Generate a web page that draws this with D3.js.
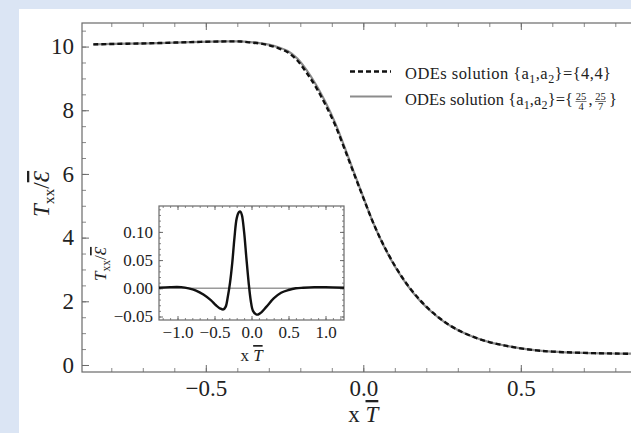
<!DOCTYPE html>
<html>
<head>
<meta charset="utf-8">
<script src="https://cdn.jsdelivr.net/npm/d3@7"></script>
<style>
  html, body { margin: 0; padding: 0; background: #dbe5f4; }
  svg { display: block; }
  text { font-family: "Liberation Serif", "Times New Roman", serif; fill: #222; }
</style>
</head>
<body>
<svg id="chart" width="631" height="433"></svg>
<script>
// ---- data: T_xx / E-bar profiles versus x T-bar ----
const xMain = [-0.857, -0.75, -0.65, -0.55, -0.45, -0.39, -0.36, -0.33, -0.30, -0.27, -0.24, -0.21, -0.18, -0.15,
  -0.12, -0.09, -0.06, -0.03, 0.00, 0.03, 0.06, 0.10, 0.14, 0.18, 0.22, 0.26, 0.30, 0.35, 0.40, 0.45, 0.50,
  0.55, 0.60, 0.70, 0.80, 0.89];
// a1 = a2 = 4 (dashed)
const txxA = [10.07, 10.09, 10.11, 10.14, 10.16, 10.16, 10.13, 10.10, 10.04, 9.95, 9.82, 9.57, 9.18, 8.72,
  8.17, 7.55, 6.80, 6.02, 5.25, 4.50, 3.85, 3.12, 2.52, 2.04, 1.65, 1.34, 1.10, 0.88, 0.72, 0.61, 0.52,
  0.46, 0.42, 0.38, 0.36, 0.35];
// a1 = 25/4, a2 = 25/7 (solid grey)
const txxB = [10.07, 10.09, 10.11, 10.14, 10.16, 10.16, 10.14, 10.11, 10.06, 9.98, 9.86, 9.63, 9.26, 8.80,
  8.25, 7.62, 6.86, 6.06, 5.27, 4.50, 3.84, 3.10, 2.50, 2.02, 1.64, 1.33, 1.10, 0.88, 0.72, 0.61, 0.52,
  0.46, 0.42, 0.38, 0.36, 0.35];

// inset: difference profile
const xInset = [-1.25, -1.10, -0.95, -0.85, -0.75, -0.65, -0.55, -0.48, -0.42, -0.38, -0.35, -0.32, -0.29,
  -0.26, -0.23, -0.20, -0.17, -0.15, -0.13, -0.10, -0.07, -0.04, -0.01, 0.02, 0.06, 0.09, 0.13, 0.20,
  0.30, 0.40, 0.50, 0.60, 0.70, 0.85, 1.00, 1.25];
const dInset = [0.001, 0.002, 0.002, 0.000, -0.004, -0.011, -0.021, -0.030, -0.036, -0.0375, -0.033, -0.015,
  0.010, 0.045, 0.090, 0.124, 0.135, 0.136, 0.130, 0.100, 0.055, 0.012, -0.022, -0.040, -0.046, -0.0465,
  -0.043, -0.033, -0.018, -0.008, -0.003, 0.000, 0.001, 0.002, 0.002, 0.001];

// tick values
const mainXTicks = [-0.5, 0.0, 0.5];
const mainYTicks = [0, 2, 4, 6, 8, 10];
const insetXTicks = [-1.0, -0.5, 0.0, 0.5, 1.0];
const insetYTicks = [-0.05, 0.00, 0.05, 0.10];

// ---- drawing ----
const svg = d3.select("#chart");
const frameColor = "#6a6a6a";

// white panel
svg.append("rect").attr("x", 19).attr("y", 9).attr("width", 612).attr("height", 424).attr("fill", "#fff");

// main scales
const x = d3.scaleLinear().domain([-0.893, 0.893]).range([82, 644.6]);
const y = d3.scaleLinear().domain([-0.22, 10.74]).range([372, 23]);

function frameAxes(g, xs, ys, xt, yt, xMinor, yMinor, fmtX, fmtY, major, minor, pad, fontSize) {
  const [x0, x1] = xs.range();
  const [y0, y1] = ys.range();
  const sides = [
    {axis: d3.axisBottom, s: xs, t: y0, vals: xt, min: xMinor, fmt: fmtX, lbl: true, horiz: true},
    {axis: d3.axisTop, s: xs, t: y1, vals: xt, min: xMinor, fmt: fmtX, lbl: false, horiz: true},
    {axis: d3.axisLeft, s: ys, t: x0, vals: yt, min: yMinor, fmt: fmtY, lbl: true, horiz: false},
    {axis: d3.axisRight, s: ys, t: x1, vals: yt, min: yMinor, fmt: fmtY, lbl: false, horiz: false}
  ];
  sides.forEach(sd => {
    const tr = sd.horiz ? `translate(0,${sd.t})` : `translate(${sd.t},0)`;
    const gm = g.append("g").attr("transform", tr)
      .call(sd.axis(sd.s).tickValues(sd.min).tickSize(-minor).tickFormat(""));
    gm.select(".domain").remove();
    gm.selectAll("line").attr("stroke", frameColor).attr("stroke-width", 0.8);
    const ga = g.append("g").attr("transform", tr)
      .call(sd.axis(sd.s).tickValues(sd.vals).tickSize(-major).tickPadding(pad)
        .tickFormat(sd.lbl ? sd.fmt : ""));
    ga.select(".domain").remove();
    ga.selectAll("line").attr("stroke", frameColor).attr("stroke-width", 1);
    ga.selectAll("text").attr("font-family", "Liberation Serif").attr("font-size", fontSize).attr("fill", "#222");
  });
  g.append("rect").attr("x", x0).attr("y", y1).attr("width", x1 - x0).attr("height", y0 - y1)
    .attr("fill", "none").attr("stroke", frameColor).attr("stroke-width", 1.2);
}

// main frame
const gMain = svg.append("g");
frameAxes(gMain, x, y, mainXTicks, mainYTicks,
  d3.range(-0.8, 0.85, 0.1).map(v => +v.toFixed(2)),
  d3.range(0, 10.6, 0.5),
  d3.format(".1f"), d3.format("d"), 7, 4, 8, 23);

// main curves
svg.append("clipPath").attr("id", "clipMain").append("rect")
  .attr("x", 82).attr("y", 23).attr("width", 562.6).attr("height", 349);
const lineMain = d3.line().x(d => x(d[0])).y(d => y(d[1])).curve(d3.curveCatmullRom);
svg.append("path").attr("clip-path", "url(#clipMain)")
  .attr("d", lineMain(xMain.map((v, i) => [v, txxB[i]])))
  .attr("fill", "none").attr("stroke", "#8c8c8c").attr("stroke-width", 2.2);
svg.append("path").attr("clip-path", "url(#clipMain)")
  .attr("d", lineMain(xMain.map((v, i) => [v, txxA[i]])))
  .attr("fill", "none").attr("stroke", "#111").attr("stroke-width", 2.4).attr("stroke-dasharray", "5,3");

// axis labels
function xLabel(g, cx, baseline, size) {
  const t = g.append("text").attr("x", cx).attr("y", baseline).attr("text-anchor", "middle")
    .attr("font-size", size);
  t.append("tspan").text("x ");
  t.append("tspan").attr("font-style", "italic").style("text-decoration", "overline").text("T");
}
function yLabel(g, cx, cy, size) {
  const t = g.append("text").attr("transform", `translate(${cx},${cy}) rotate(-90)`)
    .attr("text-anchor", "middle").attr("font-size", size);
  t.append("tspan").attr("font-style", "italic").text("T");
  t.append("tspan").attr("font-size", size * 0.68).attr("dy", size * 0.22).text("xx");
  t.append("tspan").attr("dy", -size * 0.22).text("/");
  t.append("tspan").attr("font-style", "italic").style("text-decoration", "overline").text("\u0190");
}
xLabel(svg, x(0), 422, 23);
yLabel(svg, 49, 194, 23);

// legend
const legend = svg.append("g");
legend.append("line").attr("x1", 350).attr("x2", 391).attr("y1", 71.5).attr("y2", 71.5)
  .attr("stroke", "#111").attr("stroke-width", 2.4).attr("stroke-dasharray", "5,3");
legend.append("line").attr("x1", 350).attr("x2", 392).attr("y1", 96.5).attr("y2", 96.5)
  .attr("stroke", "#8c8c8c").attr("stroke-width", 2.2);

const legFont = 16.5;
function legendText(yb, tail, width) {
  const t = legend.append("text").attr("x", 405).attr("y", yb).attr("font-size", legFont)
    .attr("textLength", width).attr("lengthAdjust", "spacing");
  t.append("tspan").text("ODEs solution {a");
  t.append("tspan").attr("font-size", 12).attr("dy", 4).text("1");
  t.append("tspan").attr("dy", -4).text(",a");
  t.append("tspan").attr("font-size", 12).attr("dy", 4).text("2");
  t.append("tspan").attr("dy", -4).text(tail);
  return t;
}
legendText(78.5, "}={4,4}", 206);
legendText(104.5, "}={", 168);
let cx = 575;
function frac(num, den) {
  const w = 12;
  legend.append("text").attr("x", cx + w / 2).attr("y", 99.5).attr("text-anchor", "middle")
    .attr("font-size", 10.5).text(num);
  legend.append("line").attr("x1", cx + 0.5).attr("x2", cx + w - 0.5).attr("y1", 101.5).attr("y2", 101.5)
    .attr("stroke", "#222").attr("stroke-width", 0.6);
  legend.append("text").attr("x", cx + w / 2).attr("y", 109.5).attr("text-anchor", "middle")
    .attr("font-size", 10.5).text(den);
  cx += w;
}
frac("25", "4");
legend.append("text").attr("x", cx + 1.5).attr("y", 104.5).attr("font-size", legFont).text(",");
cx += 7.5;
frac("25", "7");
legend.append("text").attr("x", cx + 2.5).attr("y", 104.5).attr("font-size", legFont).text("}");

// ---- inset ----
const xi = d3.scaleLinear().domain([-1.25, 1.25]).range([159, 344]);
const yi = d3.scaleLinear().domain([-0.0562, 0.1459]).range([320, 206]);
const gIn = svg.append("g");
gIn.append("rect").attr("x", 159).attr("y", 206).attr("width", 185).attr("height", 114).attr("fill", "#fff");
frameAxes(gIn, xi, yi, insetXTicks, insetYTicks,
  d3.range(-1.2, 1.25, 0.1).map(v => +v.toFixed(2)),
  d3.range(-0.05, 0.145, 0.01).map(v => +v.toFixed(3)),
  d3.format(".1f"), d3.format(".2f"), 4, 2, 6, 17);
gIn.append("line").attr("x1", xi(-1.25)).attr("x2", xi(1.25)).attr("y1", yi(0)).attr("y2", yi(0))
  .attr("stroke", "#9a9a9a").attr("stroke-width", 1.6);
const lineIn = d3.line().x(d => xi(d[0])).y(d => yi(d[1])).curve(d3.curveCatmullRom);
gIn.append("path").attr("d", lineIn(xInset.map((v, i) => [v, dInset[i]])))
  .attr("fill", "none").attr("stroke", "#111").attr("stroke-width", 2.4);
xLabel(gIn, xi(0), 361, 17);
yLabel(gIn, 106, 264, 17);
</script>
</body>
</html>
